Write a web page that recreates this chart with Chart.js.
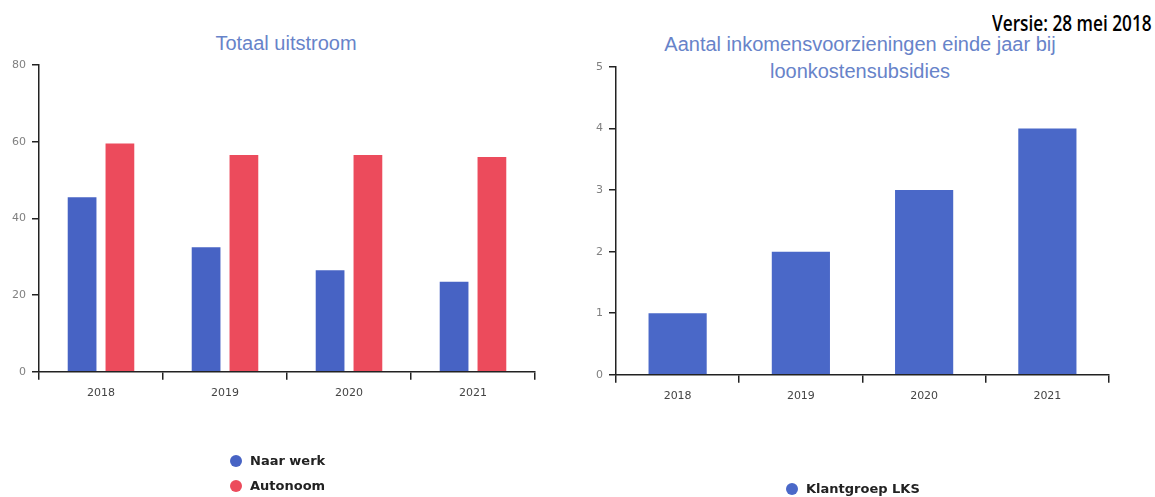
<!DOCTYPE html>
<html>
<head>
<meta charset="utf-8">
<script src="https://cdn.jsdelivr.net/npm/chart.js@4.4.1/dist/chart.umd.min.js"></script>
<style>
  body { margin: 0; width: 1155px; height: 497px; background: #fff; position: relative; overflow: hidden; font-family: 'Liberation Sans', Arial, sans-serif; }
  .box { position: absolute; top: 0; width: 545px; height: 497px; }
  .title { position: absolute; color: #6783c9; font-size: 20px; line-height: 27px; text-align: center; }
  .versie { position: absolute; right: 3px; top: 9px; font-family: 'Open Sans', sans-serif; font-weight: 600; font-size: 21px; color: #000; transform: scaleX(0.82); transform-origin: right center; white-space: nowrap; }
  .legend { position: absolute; font-family: 'DejaVu Sans', sans-serif; font-weight: bold; font-size: 13px; color: #222; }
  .legend .item { height: 25px; display: flex; align-items: center; }
  .legend .dot { width: 12px; height: 12px; border-radius: 50%; margin-right: 8px; }
</style>
</head>
<body>
<div class="versie">Versie: 28 mei 2018</div>
<div class="title" style="left:136px; top:30px; width:300px;">Totaal uitstroom</div>
<div class="title" style="left:610px; top:31px; width:500px;">Aantal inkomensvoorzieningen einde jaar bij<br>loonkostensubsidies</div>

<div class="box" style="left:0;"><canvas id="uitstroom"></canvas></div>
<div class="box" style="left:575px;"><canvas id="lks"></canvas></div>

<div class="legend" id="legendLeft" style="left:230px; top:448px;"></div>
<div class="legend" id="legendRight" style="left:786px; top:476px;"></div>

<script>
// data
const jaren = ['2018', '2019', '2020', '2021'];
const naarWerk = [45.5, 32.5, 26.5, 23.5];
const autonoom = [59.5, 56.5, 56.5, 56];
const klantgroepLks = [1, 2, 3, 4];

const blauw = '#4763c4';
const rood = '#ec4b5c';

function axes(max, step) {
  return {
    x: {
      grid: { display: true, drawOnChartArea: false, drawTicks: true, tickLength: 8, color: '#222', lineWidth: 1.5, offset: true },
      border: { display: true, color: '#222', width: 1.5 },
      ticks: { color: '#444', font: { family: 'DejaVu Sans', size: 11 }, padding: 7 },
    },
    y: {
      min: 0,
      max: max,
      grid: { display: true, drawOnChartArea: false, drawTicks: true, tickLength: 7, color: '#222', lineWidth: 1.5 },
      border: { display: true, color: '#222', width: 1.5 },
      ticks: { stepSize: step, color: '#808080', font: { family: 'DejaVu Sans', size: 11 }, padding: 6 },
    },
  };
}

const left = new Chart(document.getElementById('uitstroom'), {
  type: 'bar',
  data: {
    labels: jaren,
    datasets: [
      { label: 'Naar werk', data: naarWerk, backgroundColor: blauw, categoryPercentage: 0.61, barPercentage: 0.76 },
      { label: 'Autonoom', data: autonoom, backgroundColor: rood, categoryPercentage: 0.61, barPercentage: 0.76 },
    ],
  },
  options: {
    responsive: true,
    maintainAspectRatio: false,
    animation: false,
    layout: { padding: { top: 65, left: 6, right: 10, bottom: 90 } },
    plugins: { legend: { display: false }, tooltip: { enabled: false } },
    scales: axes(80, 20),
  },
});

const right = new Chart(document.getElementById('lks'), {
  type: 'bar',
  data: {
    labels: jaren,
    datasets: [
      { label: 'Klantgroep LKS', data: klantgroepLks, backgroundColor: '#4a68c8', categoryPercentage: 0.8, barPercentage: 0.59 },
    ],
  },
  options: {
    responsive: true,
    maintainAspectRatio: false,
    animation: false,
    layout: { padding: { top: 67, left: 15, right: 11, bottom: 87 } },
    plugins: { legend: { display: false }, tooltip: { enabled: false } },
    scales: axes(5, 1),
  },
});

// html legends from the datasets
function buildLegend(chart, id) {
  const el = document.getElementById(id);
  chart.data.datasets.forEach(ds => {
    const item = document.createElement('div');
    item.className = 'item';
    const dot = document.createElement('span');
    dot.className = 'dot';
    dot.style.background = ds.backgroundColor;
    item.appendChild(dot);
    item.appendChild(document.createTextNode(ds.label));
    el.appendChild(item);
  });
}
buildLegend(left, 'legendLeft');
buildLegend(right, 'legendRight');
</script>
</body>
</html>
